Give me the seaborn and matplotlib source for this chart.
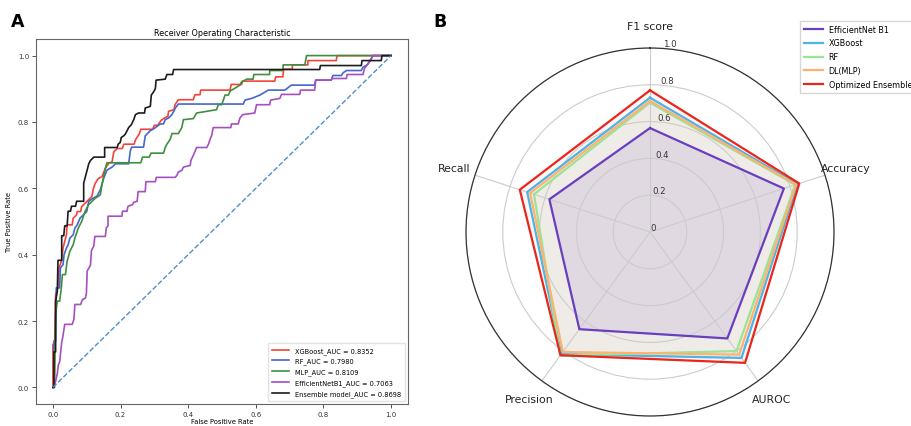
import numpy as np
import pandas as pd
import seaborn as sns
import matplotlib.pyplot as plt

# ---- panel A: ROC curves ----
xgb_fpr = [0, 0, 0.005, 0.008, 0.015, 0.018, 0.025, 0.03, 0.035, 0.04, 0.042, 0.057, 0.06, 0.07, 0.072,
           0.082, 0.085, 0.095, 0.105, 0.115, 0.12, 0.125, 0.135, 0.145, 0.155, 0.165, 0.175, 0.18, 0.19,
           0.205, 0.21, 0.24, 0.245, 0.255, 0.26, 0.295, 0.30, 0.31, 0.32, 0.33, 0.34, 0.342, 0.358, 0.361,
           0.371, 0.415, 0.42, 0.435, 0.437, 0.524, 0.527, 0.558, 0.561, 0.656, 0.659, 0.68, 0.682, 0.708,
           0.708, 0.754, 0.754, 0.838, 0.840, 1.0]
xgb_tpr = [0, 0.13, 0.13, 0.28, 0.30, 0.36, 0.38, 0.42, 0.44, 0.46, 0.49, 0.49, 0.51, 0.52, 0.53,
           0.53, 0.545, 0.555, 0.565, 0.575, 0.60, 0.615, 0.63, 0.635, 0.66, 0.675, 0.68, 0.71, 0.72,
           0.72, 0.733, 0.733, 0.748, 0.763, 0.778, 0.778, 0.79, 0.79, 0.805, 0.812, 0.817, 0.832, 0.837,
           0.852, 0.867, 0.867, 0.882, 0.882, 0.896, 0.896, 0.913, 0.913, 0.923, 0.923, 0.936, 0.936,
           0.959, 0.959, 0.972, 0.972, 0.985, 0.985, 1.0, 1.0]

rf_fpr = [0, 0.003, 0.003, 0.008, 0.01, 0.02, 0.022, 0.03, 0.033, 0.04, 0.045, 0.05, 0.06, 0.065, 0.072,
          0.08, 0.09, 0.1, 0.103, 0.106, 0.12, 0.13, 0.14, 0.15, 0.16, 0.175, 0.185, 0.224, 0.229, 0.233,
          0.268, 0.273, 0.287, 0.302, 0.317, 0.327, 0.332, 0.342, 0.352, 0.362, 0.371, 0.563, 0.568, 0.588,
          0.612, 0.637, 0.686, 0.705, 0.774, 0.777, 0.823, 0.828, 0.853, 0.858, 0.868, 0.912, 0.917, 0.926,
          0.931, 0.941, 0.946, 1.0]
rf_tpr = [0, 0, 0.14, 0.14, 0.30, 0.30, 0.36, 0.37, 0.40, 0.42, 0.43, 0.45, 0.46, 0.48, 0.49,
          0.51, 0.52, 0.53, 0.546, 0.561, 0.571, 0.576, 0.595, 0.63, 0.655, 0.664, 0.674, 0.674, 0.714,
          0.724, 0.724, 0.758, 0.773, 0.782, 0.794, 0.794, 0.807, 0.812, 0.822, 0.842, 0.854, 0.854,
          0.866, 0.871, 0.881, 0.896, 0.896, 0.911, 0.911, 0.926, 0.926, 0.940, 0.940, 0.948, 0.955,
          0.955, 0.965, 0.970, 0.975, 0.990, 1.0, 1.0]

mlp_fpr = [0, 0.005, 0.008, 0.013, 0.02, 0.025, 0.028, 0.037, 0.042, 0.05, 0.06, 0.065, 0.075, 0.085,
           0.095, 0.105, 0.115, 0.125, 0.14, 0.145, 0.15, 0.155, 0.16, 0.26, 0.265, 0.285, 0.29, 0.327,
           0.332, 0.337, 0.347, 0.352, 0.371, 0.381, 0.386, 0.415, 0.425, 0.484, 0.489, 0.499, 0.504,
           0.509, 0.519, 0.524, 0.553, 0.558, 0.568, 0.573, 0.592, 0.594, 0.641, 0.641, 0.68, 0.681,
           0.745, 0.75, 1.0]
mlp_tpr = [0, 0, 0.22, 0.26, 0.26, 0.30, 0.34, 0.34, 0.38, 0.41, 0.43, 0.45, 0.48, 0.50,
           0.53, 0.55, 0.56, 0.57, 0.58, 0.61, 0.635, 0.66, 0.677, 0.677, 0.694, 0.694, 0.706, 0.706,
           0.723, 0.733, 0.748, 0.765, 0.765, 0.783, 0.807, 0.81, 0.827, 0.837, 0.852, 0.852, 0.866,
           0.881, 0.881, 0.893, 0.911, 0.921, 0.926, 0.929, 0.929, 0.943, 0.943, 0.955, 0.955, 0.972,
           0.972, 1.0, 1.0]

eff_fpr = [0, 0.003, 0.008, 0.013, 0.016, 0.02, 0.023, 0.026, 0.029, 0.035, 0.057, 0.062, 0.065, 0.082,
           0.087, 0.096, 0.099, 0.101, 0.101, 0.111, 0.114, 0.121, 0.124, 0.155, 0.158, 0.163, 0.163,
           0.204, 0.206, 0.219, 0.222, 0.236, 0.239, 0.249, 0.252, 0.273, 0.275, 0.303, 0.306, 0.362,
           0.367, 0.371, 0.381, 0.386, 0.406, 0.408, 0.415, 0.425, 0.455, 0.46, 0.465, 0.47, 0.474,
           0.526, 0.528, 0.548, 0.553, 0.561, 0.597, 0.602, 0.641, 0.644, 0.671, 0.676, 0.73, 0.732,
           0.774, 0.777, 0.823, 0.826, 0.868, 0.87, 0.917, 0.921, 0.936, 0.946, 1.0]
eff_tpr = [0, 0.003, 0.018, 0.042, 0.067, 0.077, 0.107, 0.136, 0.151, 0.19, 0.19, 0.205, 0.25, 0.25,
           0.264, 0.269, 0.284, 0.338, 0.35, 0.368, 0.412, 0.427, 0.455, 0.455, 0.481, 0.487, 0.516,
           0.516, 0.531, 0.531, 0.546, 0.551, 0.558, 0.561, 0.59, 0.59, 0.62, 0.62, 0.633, 0.633,
           0.64, 0.649, 0.654, 0.664, 0.669, 0.684, 0.699, 0.723, 0.723, 0.733, 0.748, 0.761, 0.783,
           0.783, 0.794, 0.794, 0.812, 0.822, 0.827, 0.852, 0.852, 0.866, 0.871, 0.883, 0.883, 0.896,
           0.896, 0.926, 0.926, 0.931, 0.931, 0.943, 0.943, 0.961, 0.98, 1.0, 1.0]

ens_fpr = [0, 0.003, 0.003, 0.008, 0.008, 0.013, 0.015, 0.026, 0.026, 0.032, 0.035, 0.042, 0.045, 0.052,
           0.055, 0.067, 0.07, 0.091, 0.091, 0.096, 0.101, 0.106, 0.111, 0.116, 0.121, 0.153, 0.153,
           0.19, 0.193, 0.199, 0.202, 0.209, 0.214, 0.219, 0.224, 0.232, 0.239, 0.244, 0.253, 0.271,
           0.273, 0.288, 0.291, 0.298, 0.303, 0.305, 0.332, 0.337, 0.354, 0.357, 0.789, 0.791, 0.912,
           0.914, 0.971, 0.973, 1.0]
ens_tpr = [0, 0, 0.107, 0.107, 0.26, 0.289, 0.383, 0.383, 0.457, 0.457, 0.487, 0.487, 0.531, 0.531,
           0.546, 0.546, 0.561, 0.561, 0.615, 0.635, 0.654, 0.674, 0.684, 0.689, 0.694, 0.694, 0.723,
           0.723, 0.733, 0.738, 0.753, 0.758, 0.763, 0.773, 0.783, 0.792, 0.807, 0.822, 0.827, 0.827,
           0.842, 0.847, 0.881, 0.891, 0.901, 0.926, 0.929, 0.943, 0.943, 0.958, 0.958, 0.970, 0.970,
           0.985, 0.985, 1.0, 1.0]

roc_labels = ['XGBoost_AUC = 0.8352', 'RF_AUC = 0.7980', 'MLP_AUC = 0.8109',
              'EfficientNetB1_AUC = 0.7063', 'Ensemble model_AUC = 0.8698']
roc_colors = ['#f2443a', '#4565d0', '#3f8f3f', '#a64fc0', '#1c1c1c']

# ---- panel B: radar metrics ----
metrics = ['F1 score', 'Accuracy', 'AUROC', 'Precision', 'Recall']
models = ['EfficientNet B1', 'XGBoost', 'RF', 'DL(MLP)', 'Optimized Ensemble']
eff_scores = [0.565, 0.765, 0.715, 0.653, 0.575]
xgb_scores = [0.73, 0.842, 0.846, 0.82, 0.702]
rf_scores = [0.703, 0.83, 0.80, 0.83, 0.663]
mlp_scores = [0.712, 0.835, 0.824, 0.806, 0.685]
ens_scores = [0.77, 0.853, 0.879, 0.828, 0.744]
radar_colors = ['#6a3fbf', '#4cb4e6', '#98e498', '#ffb26e', '#e8261c']
fill_alpha = [0.12, 0.05, 0.05, 0.05, 0.04]

rows = []
for lab, fx, ty in zip(roc_labels,
                       [xgb_fpr, rf_fpr, mlp_fpr, eff_fpr, ens_fpr],
                       [xgb_tpr, rf_tpr, mlp_tpr, eff_tpr, ens_tpr]):
    for a, b in zip(fx, ty):
        rows.append({'model': lab, 'fpr': a, 'tpr': b})
roc_df = pd.DataFrame(rows)

fig = plt.figure(figsize=(9.12, 4.27), dpi=100)

# ROC axes
ax = fig.add_axes([36 / 912, 22 / 427, 372 / 912, 365 / 427])
sns.lineplot(data=roc_df, x='fpr', y='tpr', hue='model', hue_order=roc_labels,
             palette=roc_colors, sort=False, estimator=None, lw=1.2, ax=ax)
ax.plot([0, 1], [0, 1], linestyle='--', color='#4a90d0', lw=1.0)
ax.set_xlim(-0.05, 1.05)
ax.set_ylim(-0.05, 1.05)
ax.set_title('Receiver Operating Characteristic', fontsize=5.8, pad=3)
ax.set_xlabel('False Positive Rate', fontsize=4.9, labelpad=1)
ax.set_ylabel('True Positive Rate', fontsize=4.9, labelpad=4)
ax.tick_params(labelsize=5, length=3, width=0.6, pad=2, colors='#333333')
for s in ax.spines.values():
    s.set_color('#666666')
    s.set_linewidth(0.8)
ax.legend(loc='lower right', fontsize=4.8, frameon=True, handlelength=2.6,
          borderpad=0.6, labelspacing=0.6, fancybox=False, edgecolor='#dddddd')

# radar axes
angles = np.linspace(0, 2 * np.pi, len(metrics), endpoint=False)
rax = fig.add_axes([466 / 912, 10 / 427, 368 / 912, 368 / 427], projection='polar')
rax.set_theta_offset(np.pi / 2)
rax.set_theta_direction(-1)
rax.set_ylim(0, 1.0)
for name, vals, col, al in zip(models, [eff_scores, xgb_scores, rf_scores, mlp_scores, ens_scores],
                               radar_colors, fill_alpha):
    th = np.append(angles, angles[0])
    rr = np.append(vals, vals[0])
    rax.plot(th, rr, color=col, lw=1.6, label=name)
    rax.fill(th, rr, color=col, alpha=al)
rax.set_xticks(angles)
rax.set_xticklabels([])
rax.set_yticks([0, 0.2, 0.4, 0.6, 0.8, 1.0])
rax.set_yticklabels(['0', '0.2', '0.4', '0.6', '0.8', '1.0'], fontsize=6.2, color='#333333')
rax.set_rlabel_position(4)
rax.grid(color='#cccccc', lw=0.8)
rax.spines['polar'].set_color('#333333')
rax.spines['polar'].set_linewidth(0.9)
for a, m in zip(angles, metrics):
    rax.text(a, 1.12, m, ha='center', va='center', fontsize=7.8, color='#222222')
rax.legend(loc='upper left', bbox_to_anchor=(796 / 912, 1 - 18 / 427),
           bbox_transform=fig.transFigure, fontsize=5.8, frameon=True, fancybox=False,
           edgecolor='#cccccc', handlelength=2.4, handletextpad=0.7, borderpad=0.45,
           labelspacing=0.6)

fig.text(18 / 912, 1 - 22 / 427, 'A', fontsize=12.5, fontweight='bold', va='center', ha='center')
fig.text(440 / 912, 1 - 22 / 427, 'B', fontsize=12.5, fontweight='bold', va='center', ha='center')

fig.savefig('out.png', dpi=100)
